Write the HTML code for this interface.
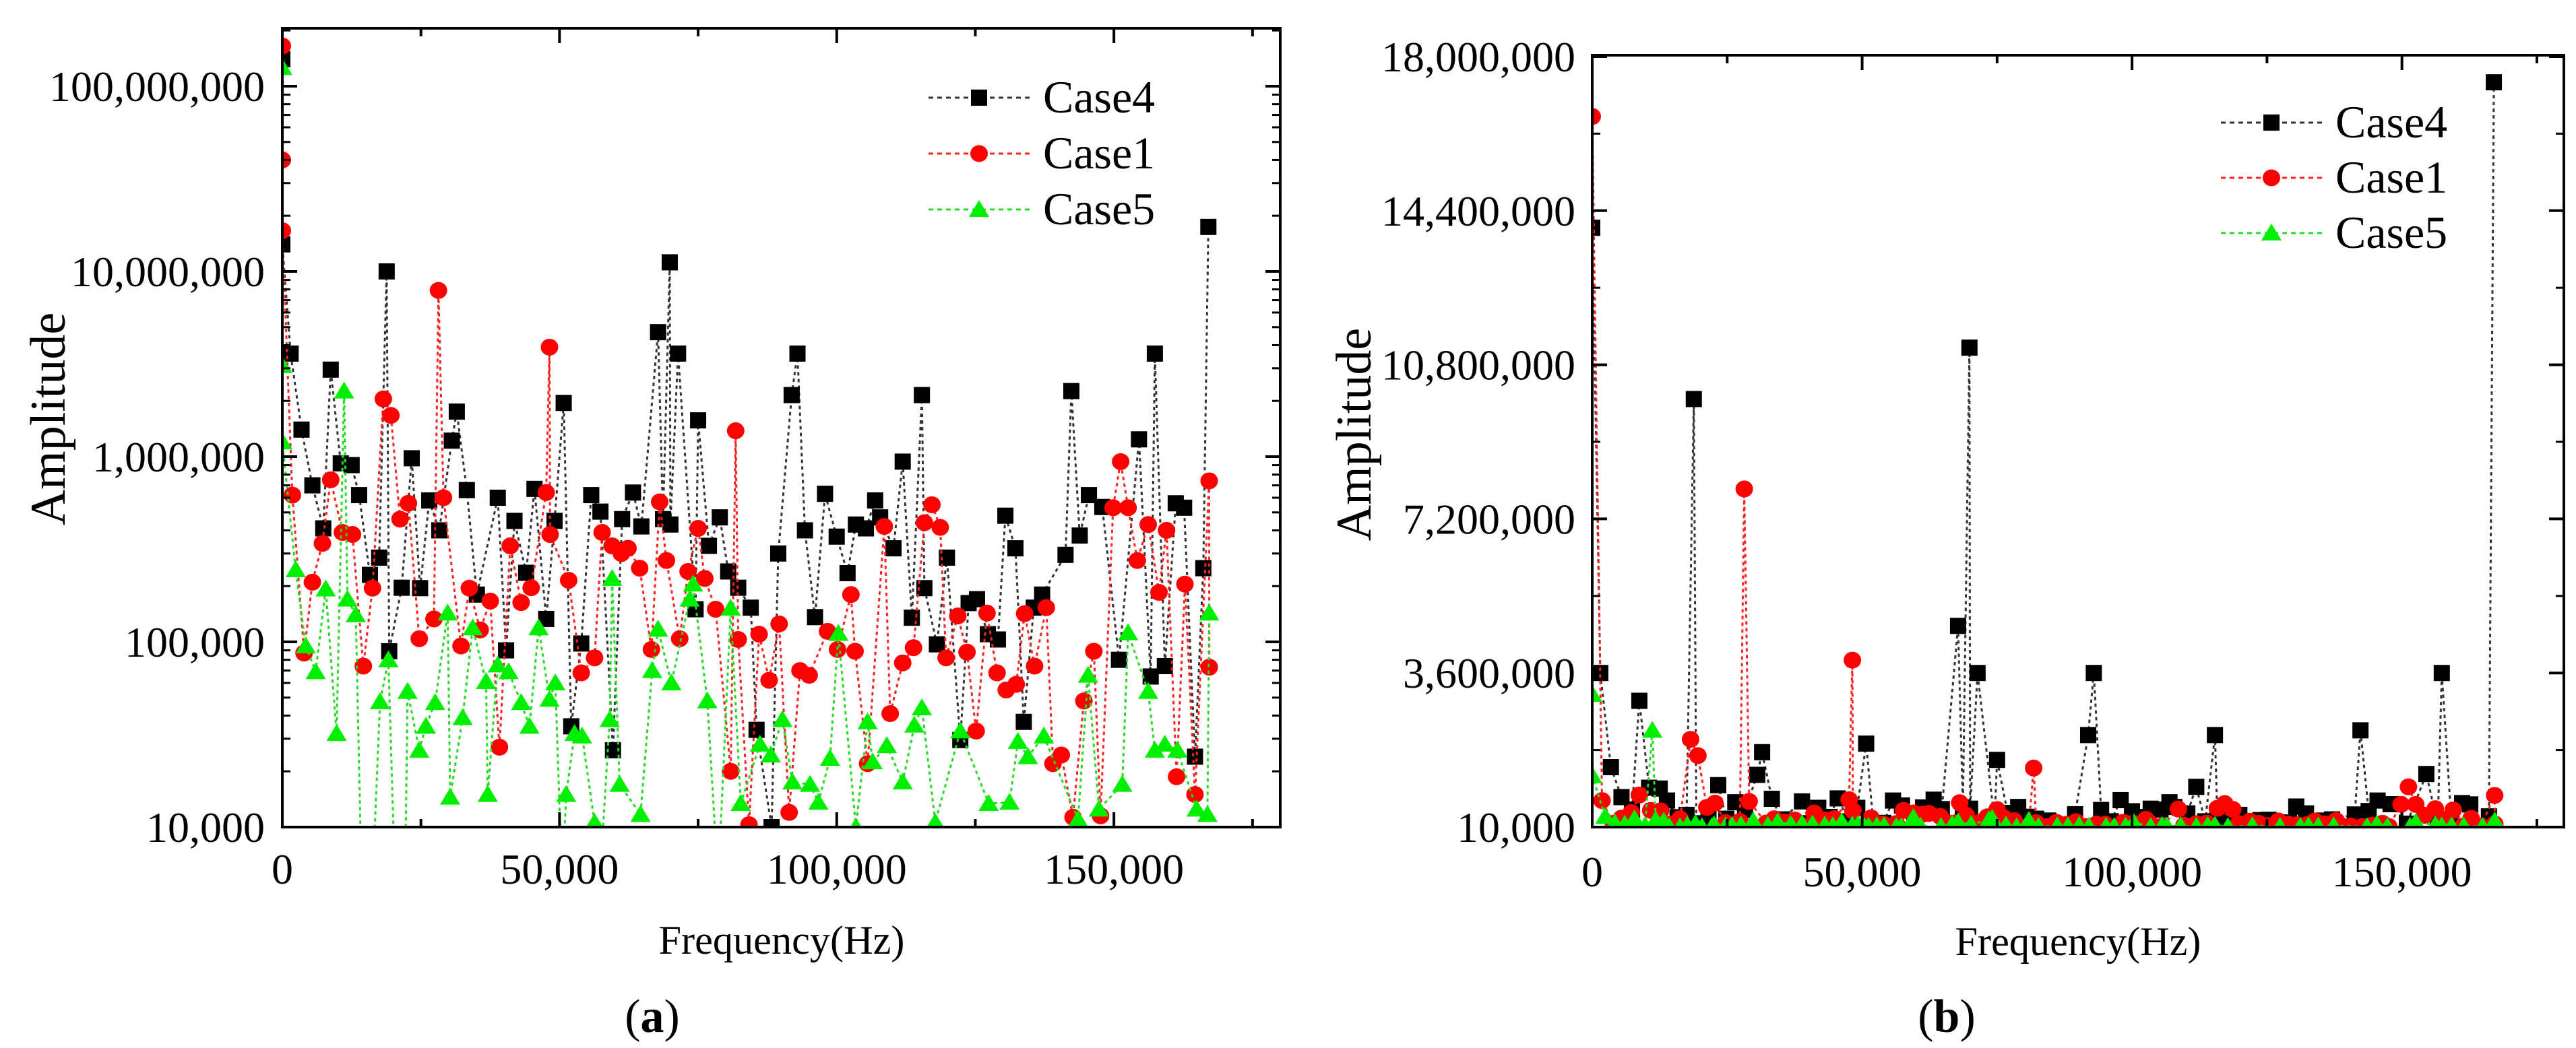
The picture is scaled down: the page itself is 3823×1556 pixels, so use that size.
<!DOCTYPE html>
<html><head><meta charset="utf-8"><style>
html,body{margin:0;padding:0;background:#fff;}
svg{display:block;}
svg text{font-family:"Liberation Serif","DejaVu Serif",serif;}
</style></head><body>
<svg id="chart" width="3823" height="1556" viewBox="0 0 3823 1556" xmlns="http://www.w3.org/2000/svg" font-family="Liberation Serif, serif">
</svg>
<script>
// ---- data (frequency Hz, amplitude) ----
const case4Freq=[0,0,1500,3460,5420,7380,8730,10540,12500,13850,15800,17470,18820,19280,21530,23340,24850,26500,28310,30570,31470,33280,35090,38860,40360,41870,43980,45480,47590,49100,50750,52110,53920,55720,57380,59640,61290,63250,64760,67770,68670,69880,70000,71380,74540,75000,76950,78910,80420,82230,84490,85540,88250,89450,91870,92920,94270,96080,97890,99990,101950,103460,105270,106930,107830,110240,111900,113550,115360,115810,118070,119880,122290,123790,125300,127260,129070,130420,132230,133740,135540,137050,141270,142320,143830,145490,147900,150910,154520,156630,157380,159190,161150,162660,164620,166120,167030];
const case4Amp=[1.4e8,1.4e7,3.6e6,1.4e6,7.0e5,4.1e5,2.95e6,9.2e5,9.0e5,6.2e5,2.3e5,2.85e5,1.0e7,8.9e4,1.96e5,9.8e5,1.95e5,5.8e5,4.0e5,1.22e6,1.75e6,6.6e5,1.8e5,6.0e5,9.0e4,4.5e5,2.36e5,6.7e5,1.33e5,4.5e5,1.95e6,3.5e4,9.8e4,6.2e5,5.05e5,2.6e4,4.6e5,6.4e5,4.2e5,4.7e6,4.6e5,1.12e7,4.3e5,3.6e6,1.5e5,1.57e6,3.3e5,4.7e5,2.4e5,1.96e5,1.53e5,3.35e4,1.0e4,3.0e5,2.15e6,3.6e6,4.0e5,1.36e5,6.3e5,3.7e5,2.35e5,4.3e5,4.1e5,5.8e5,4.7e5,3.2e5,9.4e5,1.35e5,2.15e6,1.95e5,9.7e4,2.85e5,2.95e4,1.62e5,1.7e5,1.1e5,1.03e5,4.8e5,3.2e5,3.7e4,1.53e5,1.8e5,2.95e5,2.26e6,3.75e5,6.2e5,5.35e5,8.0e4,1.24e6,6.5e4,3.6e6,7.4e4,5.6e5,5.3e5,2.4e4,2.5e5,1.74e7];
const case1Freq=[0,0,0,1810,3920,5420,7230,8730,10840,12650,14610,16260,18220,19580,21230,22740,24700,27350,28160,29070,32230,33730,35690,37500,39160,41110,43070,44880,47590,48190,48300,51650,53920,56320,57680,59490,61150,62350,64460,66570,68070,69280,71680,73190,75000,76200,78160,80870,81770,82230,84180,86000,87800,89610,91420,93370,95030,98340,100150,102560,103310,105570,108580,109640,111900,113850,115810,117170,118670,119730,121840,123500,125150,127110,128920,130570,132380,133890,135690,137800,139000,140510,142620,144580,146380,147590,149850,151210,152560,154220,156180,158130,159490,161300,162810,164620,167180,167200];
const case1Amp=[1.65e8,4.0e7,1.66e7,6.2e5,8.7e4,2.1e5,3.4e5,7.5e5,3.9e5,3.8e5,7.4e4,1.95e5,2.05e6,1.67e6,4.6e5,5.6e5,1.04e5,1.33e5,7.9e6,6.0e5,9.5e4,1.95e5,1.16e5,1.66e5,2.7e4,3.3e5,1.63e5,1.96e5,6.4e5,3.9e6,3.8e5,2.15e5,6.8e4,8.2e4,3.9e5,3.3e5,3.0e5,3.2e5,2.5e5,9.1e4,5.7e5,2.75e5,1.04e5,2.4e5,4.1e5,2.2e5,1.5e5,2.0e4,1.38e6,1.03e5,1.03e4,1.1e5,6.2e4,1.25e5,1.2e4,7.0e4,6.6e4,1.14e5,9.1e4,1.8e5,8.9e4,2.2e4,4.2e5,4.1e4,7.7e4,9.3e4,4.4e5,5.5e5,4.15e5,8.2e4,1.38e5,8.8e4,3.3e4,1.43e5,6.8e4,5.5e4,5.9e4,1.42e5,7.4e4,1.53e5,2.2e4,2.45e4,1.13e4,4.8e4,8.9e4,1.15e4,5.3e5,9.4e5,5.3e5,2.75e5,4.3e5,1.85e5,4.0e5,1.87e4,2.05e5,1.5e4,7.4e5,7.3e4];
const case5Freq=[0,0,0,2410,4220,6020,7830,9790,11140,11750,13250,14300,16260,17620,19130,20330,22140,22590,24700,25900,27560,29820,30270,32530,34340,36750,37050,38860,40810,43070,44580,46230,48190,49250,50450,51200,52710,54070,56320,57230,59040,59490,60840,64610,66710,67770,70180,73490,74090,76650,78610,80870,82680,86150,88100,90210,92020,95180,96690,98790,100300,103460,105570,106480,109040,111900,114000,115360,117770,122290,127410,131170,132680,134490,137350,143530,145340,147300,151510,152560,156180,157380,159190,161450,164920,166870,167180];
const case5Amp=[1.26e8,3.1e6,1.2e6,2.45e5,9.5e4,6.9e4,1.93e5,3.2e4,2.26e6,1.7e5,1.4e5,5e3,5e3,4.75e4,8.0e4,5e3,5e3,5.4e4,2.6e4,3.5e4,4.7e4,1.43e5,1.45e4,3.9e4,1.19e5,6.1e4,1.5e4,7.5e4,6.9e4,4.7e4,3.5e4,1.19e5,4.9e4,6.0e4,5e3,1.5e4,3.2e4,3.1e4,1.06e4,5e3,3.8e4,2.2e5,1.7e4,1.17e4,7.0e4,1.17e5,6.0e4,1.7e5,2.05e5,4.8e4,5e3,1.52e5,1.34e4,2.8e4,2.45e4,3.8e4,1.75e4,1.7e4,1.36e4,2.35e4,1.11e5,1.0e4,3.7e4,2.25e4,2.75e4,1.75e4,3.55e4,4.4e4,1.06e4,3.3e4,1.34e4,1.36e4,2.9e4,2.4e4,3.1e4,1.1e4,6.6e4,1.25e4,1.7e4,1.12e5,5.4e4,2.6e4,2.8e4,2.6e4,1.25e4,1.17e4,1.43e5];
const xTicks=[0,50000,100000,150000];
const xTickLabels=["0","50,000","100,000","150,000"];
const logTicks=[1e4,1e5,1e6,1e7,1e8];
const logTickLabels=["10,000","100,000","1,000,000","10,000,000","100,000,000"];
const linTicks=[0,3.6e6,7.2e6,10.8e6,14.4e6,18e6];
const linTickLabels=["10,000","3,600,000","7,200,000","10,800,000","14,400,000","18,000,000"];
const seriesNames=["Case4","Case1","Case5"];

const NS="http://www.w3.org/2000/svg";
const svg=document.getElementById('chart');
function mk(tag,attrs,parent){const e=document.createElementNS(NS,tag);for(const k in attrs)e.setAttribute(k,attrs[k]);if(tag==='text')e.setAttribute('font-family','Liberation Serif, serif');(parent||svg).appendChild(e);return e;}

const series=[
 {f:case4Freq,a:case4Amp,color:"#000",stroke:"#333",marker:"square",name:"case4"},
 {f:case1Freq,a:case1Amp,color:"#ff0000",stroke:"#ff2020",marker:"circle",name:"case1"},
 {f:case5Freq,a:case5Amp,color:"#00ee00",stroke:"#22dd22",marker:"triangle",name:"case5"}
];

function drawMarker(g,type,x,y,color){
  let m;
  if(type==="square"){m=mk('rect',{x:x-12,y:y-12,width:24,height:24,fill:color},g);}
  else if(type==="circle"){m=mk('ellipse',{cx:x,cy:y,rx:13,ry:12.5,fill:color},g);}
  else {m=mk('polygon',{points:`${x},${y-14} ${x+15},${y+11} ${x-15},${y+11}`,fill:color},g);}
  return m;
}

function panel(opt){
  const g=mk('g',{});
  
  
  const {L,R,T,B}=opt;
  const X=v=>L+(v-0)/(180000)*(R-L);
  const Y=opt.Y;
  const cid='clip-'+opt.name;
  const cp=mk('clipPath',{id:cid},g); mk('rect',{x:L,y:T,width:R-L,height:B-T},cp);
  const plot=mk('g',{'clip-path':`url(#${cid})`},g);
  
  
  series.forEach(s=>{
    const sg=mk('g',{},plot);
    
    
    const idx=s.f.map((_,i)=>i).sort((p,q)=>s.f[p]-s.f[q]);
    const pts=idx.map(i=>[X(s.f[i]),Y(s.a[i])]);
    const ln=mk('polyline',{points:pts.map(p=>p.map(v=>v.toFixed(1)).join(',')).join(' '),fill:'none',stroke:s.stroke,'stroke-width':3,'stroke-dasharray':'5 5'},sg);
    
    
    pts.forEach(p=>{const m=drawMarker(sg,s.marker,p[0],p[1],s.color);
      
      });
  });
  const fr=mk('rect',{x:L,y:T,width:R-L,height:B-T,fill:'none',stroke:'#000','stroke-width':4},g);
  
  
  for(let v=0;v<=180000;v+=25000){
    const x=X(v), len=(v%50000===0)?22:12;
    mk('line',{x1:x,y1:B,x2:x,y2:B-len,stroke:'#000','stroke-width':4},g);
    mk('line',{x1:x,y1:T,x2:x,y2:T+len,stroke:'#000','stroke-width':4},g);
  }
  xTicks.forEach((v,i)=>{
    const t=mk('text',{x:X(v),y:opt.xlabY,'text-anchor':'middle','font-size':64},g);
    t.textContent=xTickLabels[i];
    
    
  });
  opt.yMajor.forEach((v,i)=>{
    const y=Y(v);
    mk('line',{x1:L,y1:y,x2:L+22,y2:y,stroke:'#000','stroke-width':4},g);
    mk('line',{x1:R,y1:y,x2:R-22,y2:y,stroke:'#000','stroke-width':4},g);
    const t=mk('text',{x:opt.ylabX,y:y+22,'text-anchor':'end','font-size':64},g);
    t.textContent=opt.yLabels[i];
    
    
  });
  opt.yMinor.forEach(v=>{
    const y=Y(v); if(y<T||y>B)return;
    mk('line',{x1:L,y1:y,x2:L+12,y2:y,stroke:'#000','stroke-width':3},g);
    mk('line',{x1:R,y1:y,x2:R-12,y2:y,stroke:'#000','stroke-width':3},g);
  });
  const yt=mk('text',{x:0,y:0,'text-anchor':'middle','font-size':74,transform:`translate(${opt.ytX},${opt.ytY}) rotate(-90)`},g);
  yt.textContent='Amplitude';
  
  
  const xt=mk('text',{x:opt.xtX,y:opt.xtY,'text-anchor':'middle','font-size':60,textLength:365,lengthAdjust:'spacingAndGlyphs'},g);
  xt.textContent='Frequency(Hz)';
  
  
  const cap=mk('text',{x:opt.capX,y:1532,'text-anchor':'middle','font-size':70},g);
  cap.innerHTML='(<tspan font-weight="bold">'+opt.cap+'</tspan>)';
  
  
  const lg=mk('g',{},g);
  
  
  series.forEach((s,i)=>{
    const y=opt.legY+i*opt.legDy;
    const e=mk('g',{},lg);
    
    
    mk('line',{x1:opt.legX,y1:y,x2:opt.legX+150,y2:y,stroke:s.stroke,'stroke-width':3,'stroke-dasharray':'7 6'},e);
    drawMarker(e,s.marker,opt.legX+75,y,s.color);
    const t=mk('text',{x:opt.legX+170,y:y+22,'font-size':68},e);
    t.textContent=seriesNames[i];
  });
}

const aT=42,aB=1228,aTopLog=4+1186/275;
const minorLog=[];
for(let d=4;d<=8;d++)for(let k=2;k<=9;k++)minorLog.push(k*Math.pow(10,d));
panel({name:'panel-a-log',L:419,R:1900,T:aT,B:aB,
  Y:v=>{const lv=Math.log10(Math.max(v,1));return aB-(lv-4)/(aTopLog-4)*(aB-aT);},
  yMajor:logTicks,yLabels:logTickLabels,yMinor:minorLog,
  ylabX:393,xlabY:1312,ytX:96,ytY:622,xtX:1160,xtY:1416,capX:968,cap:'a',
  legX:1378,legY:145,legDy:83});
const bT=82,bB=1228,bMax=18e6*(bB-bT)/(bB-84);
const minorLin=[];
for(let v=1.8e6;v<18e6;v+=3.6e6)minorLin.push(v);
panel({name:'panel-b-linear',L:2363,R:3805,T:bT,B:bB,
  Y:v=>bB-v/bMax*(bB-bT),
  yMajor:linTicks,yLabels:linTickLabels,yMinor:minorLin,
  ylabX:2338,xlabY:1316,ytX:2034,ytY:645,xtX:3084,xtY:1418,capX:2889,cap:'b',
  legX:3296,legY:182,legDy:82});
</script>
</body></html>
